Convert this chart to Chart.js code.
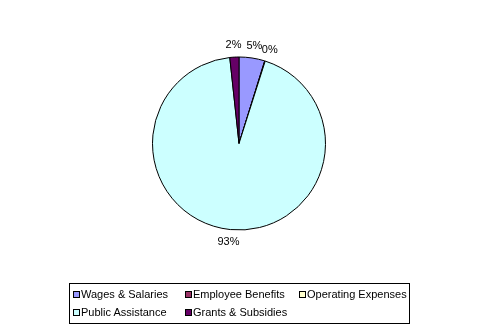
<!DOCTYPE html>
<html>
<head>
<meta charset="utf-8">
<script src="https://cdn.jsdelivr.net/npm/chart.js@4.4.0/dist/chart.umd.min.js"></script>
<style>
  html, body { margin: 0; padding: 0; background: #fff; }
  #wrap { position: relative; width: 481px; height: 333px; }
  #pieChart { position: absolute; left: 0; top: 0; }
  #legend {
    position: absolute; left: 69px; top: 283px; width: 339px; height: 39px;
    border: 1px solid #000; font-family: "Liberation Sans", Arial, sans-serif;
    font-size: 11px; color: #000;
  }
  .item { position: absolute; height: 13px; line-height: 13px; white-space: nowrap; }
  .box { display: inline-block; width: 5px; height: 5px; border: 1px solid #000; margin-right: 1px; vertical-align: 0px; }
</style>
</head>
<body>
<div id="wrap">
  <canvas id="pieChart" width="481" height="333"></canvas>
  <div id="legend"></div>
</div>
<script>
// Data
const categories = ['Wages & Salaries', 'Employee Benefits', 'Operating Expenses', 'Public Assistance', 'Grants & Subsidies'];
const values = [4.8, 0.1, 0, 93.4, 1.7];
const colors = ['#9999FF', '#993366', '#FFFFCC', '#CCFFFF', '#660066'];

// Percent labels outside the slices
const outsideLabels = {
    id: 'outsideLabels',
    afterDatasetsDraw(chart) {
        const c = chart.ctx;
        const meta = chart.getDatasetMeta(0);
        const total = values.reduce((a, b) => a + b, 0);
        c.save();
        c.font = '11px "Liberation Sans", Arial, sans-serif';
        c.fillStyle = '#000';
        c.textAlign = 'center';
        c.textBaseline = 'middle';
        meta.data.forEach((arc, i) => {
            if (!values[i]) return;
            const mid = (arc.startAngle + arc.endAngle) / 2;
            const text = Math.round(values[i] / total * 100) + '%';
            const w = c.measureText(text).width;
            const r = arc.outerRadius + 8;
            const x = arc.x + Math.cos(mid) * r + Math.cos(mid) * w / 2;
            const y = arc.y + Math.sin(mid) * r + Math.sin(mid) * 4;
            c.fillText(text, x, y);
        });
        c.restore();
    }
};

const ctx = document.getElementById('pieChart').getContext('2d');
const chart = new Chart(ctx, {
    type: 'pie',
    data: {
        labels: categories,
        datasets: [{
            data: values,
            backgroundColor: colors,
            borderColor: '#000',
            borderWidth: 1,
        }],
    },
    options: {
        responsive: false,
        animation: false,
        layout: { padding: { left: 152, right: 155, top: 56, bottom: 102 } },
        plugins: {
            legend: { display: false },
            tooltip: { enabled: false },
        },
    },
    plugins: [outsideLabels],
});

// Legend
const legend = document.getElementById('legend');
const colX = [3, 115, 229];
const rowY = [4, 22];
categories.forEach((name, i) => {
    const el = document.createElement('div');
    el.className = 'item';
    el.style.left = colX[i % 3] + 'px';
    el.style.top = rowY[Math.floor(i / 3)] + 'px';
    el.innerHTML = '<span class="box" style="background:' + colors[i] + '"></span>' + name;
    legend.appendChild(el);
});
</script>
</body>
</html>
